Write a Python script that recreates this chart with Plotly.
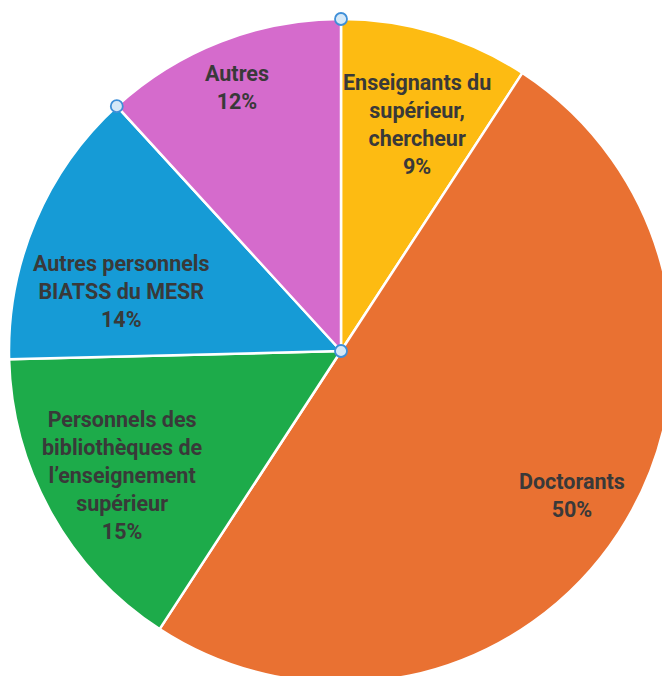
import math
import plotly.graph_objects as go

# ---- data ----
categories = [
    "Enseignants du supérieur, chercheur",
    "Doctorants",
    "Personnels des bibliothèques de l’enseignement supérieur",
    "Autres personnels BIATSS du MESR",
    "Autres",
]
display_labels = [
    "Enseignants du<br>supérieur,<br>chercheur",
    "Doctorants",
    "Personnels des<br>bibliothèques de<br>l’enseignement<br>supérieur",
    "Autres personnels<br>BIATSS du MESR",
    "Autres",
]
shares = [9.2, 50.0, 15.4, 13.6, 11.8]

# ---- style ----
colors = ["#FDBB12", "#E97132", "#1DAB4A", "#169BD6", "#D56BCC"]
text_color = "#393939"
label_rfrac = [0.72, 0.82, 0.756, 0.685, 0.854]   # radial position of labels
label_dang = [2.0, -1.0, -0.5, -8.0, -0.2]        # angular nudge (deg)
FONT = "Roboto"
FS = 21.5

W, H = 682, 702
ML, MR, MT, MB = 9, 9, 19, 19

fig = go.Figure()
fig.add_trace(go.Pie(
    labels=categories,
    values=shares,
    sort=False,
    direction="clockwise",
    rotation=0,
    marker=dict(colors=colors, line=dict(color="white", width=2.5)),
    textinfo="none",
    hoverinfo="label+percent",
    showlegend=False,
))

total = sum(shares)
cum = 0.0
annotations = []
boundaries = []
for i, v in enumerate(shares):
    mid = (cum + v / 2) / total * 360 + label_dang[i]
    th = math.radians(mid)
    r = label_rfrac[i]
    pct = round(v / total * 100)
    annotations.append(dict(
        x=0.5 + 0.5 * r * math.sin(th),
        y=0.5 + 0.5 * r * math.cos(th),
        xref="paper", yref="paper",
        xanchor="center", yanchor="middle",
        text=f"<b>{display_labels[i]}<br>{pct}%</b>",
        showarrow=False,
        font=dict(family=FONT, size=FS, color=text_color),
        align="center",
    ))
    cum += v
    boundaries.append(cum / total * 360)

# selection handles (start of pie, Autres boundary start, centre)
handle_pts = [(0.5, 1.0), (0.5, 0.5)]
a = math.radians(boundaries[3])
handle_pts.append((0.5 + 0.5 * math.sin(a), 0.5 + 0.5 * math.cos(a)))
shapes = []
for (hx, hy) in handle_pts:
    shapes.append(dict(
        type="circle", xref="paper", yref="paper",
        xsizemode="pixel", ysizemode="pixel",
        xanchor=hx, yanchor=hy, x0=-6, x1=6, y0=-6, y1=6,
        fillcolor="#d5e8f7", line=dict(color="#3f8fd8", width=1.8),
        layer="above",
    ))

fig.update_layout(
    width=W, height=H,
    margin=dict(l=ML, r=MR, t=MT, b=MB, pad=0),
    paper_bgcolor="white", plot_bgcolor="white",
    annotations=annotations,
    shapes=shapes,
    showlegend=False,
)

fig.write_html(
    "out.html",
    config={"displayModeBar": False},
    post_script="document.body.style.margin='0';document.body.style.overflow='hidden';",
)
